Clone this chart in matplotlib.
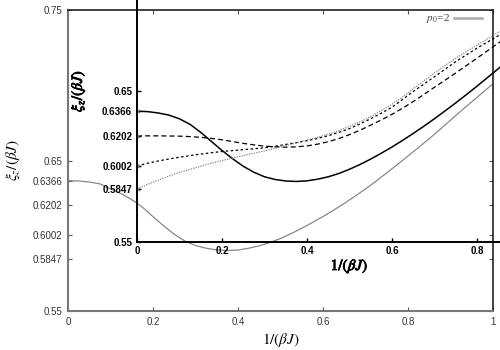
import matplotlib
matplotlib.use("Agg")
import matplotlib.pyplot as plt
import matplotlib.patheffects as pe

plt.rcParams['mathtext.fontset'] = 'stix'
plt.rcParams['font.family'] = ['Liberation Sans', 'DejaVu Sans']

# ---- data ----
x_main = [0.0, 0.025, 0.05, 0.075, 0.1, 0.125, 0.15, 0.175, 0.2, 0.225, 0.25,
          0.275, 0.3, 0.325, 0.35, 0.375, 0.4, 0.425, 0.45, 0.475, 0.5,
          0.525, 0.55, 0.575, 0.6, 0.625, 0.65, 0.675, 0.7, 0.725, 0.75,
          0.775, 0.8, 0.825, 0.85, 0.875, 0.9, 0.925, 0.95, 0.975, 1.0]
y_p0_2 = [0.6366, 0.6364, 0.6357, 0.6345, 0.6312, 0.6280, 0.6240, 0.6190,
          0.6127, 0.6066, 0.6010, 0.5965, 0.5935, 0.5917, 0.5906, 0.5902,
          0.5905, 0.5917, 0.5933, 0.5955, 0.5982, 0.6014, 0.6050, 0.6088,
          0.6128, 0.6170, 0.6215, 0.6262, 0.6311, 0.6363, 0.6418, 0.6473,
          0.6530, 0.6587, 0.6645, 0.6706, 0.6768, 0.6830, 0.6890, 0.6950,
          0.7010]

x_inset = [0.0, 0.025, 0.05, 0.075, 0.1, 0.125, 0.15, 0.175, 0.2, 0.225, 0.25,
           0.275, 0.3, 0.325, 0.35, 0.375, 0.4, 0.425, 0.45, 0.475, 0.5,
           0.525, 0.55, 0.575, 0.6, 0.625, 0.65, 0.675, 0.7, 0.725, 0.75,
           0.775, 0.8, 0.825, 0.85, 0.875, 0.9]
y_in_6366 = [0.6366, 0.6363, 0.6354, 0.6340, 0.6315, 0.6278, 0.6225, 0.6165,
             0.6105, 0.6050, 0.6000, 0.5960, 0.5930, 0.5912, 0.5902, 0.5899,
             0.5903, 0.5914, 0.5930, 0.5952, 0.5980, 0.6012, 0.6048, 0.6087,
             0.6128, 0.6172, 0.6218, 0.6266, 0.6316, 0.6368, 0.6421, 0.6476,
             0.6532, 0.6590, 0.6648, 0.6708, 0.6770]
y_in_6202 = [0.6202, 0.6202, 0.6202, 0.6201, 0.6200, 0.6197, 0.6192, 0.6185,
             0.6176, 0.6164, 0.6152, 0.6142, 0.6134, 0.6129, 0.6127, 0.6129,
             0.6135, 0.6147, 0.6163, 0.6184, 0.6210, 0.6240, 0.6273, 0.6308,
             0.6345, 0.6386, 0.6430, 0.6477, 0.6525, 0.6572, 0.6620, 0.6669,
             0.6718, 0.6768, 0.6818, 0.6868, 0.6920]
y_in_6002 = [0.6002, 0.6020, 0.6035, 0.6048, 0.6060, 0.6071, 0.6081, 0.6090,
             0.6098, 0.6104, 0.6110, 0.6116, 0.6123, 0.6133, 0.6145, 0.6157,
             0.6170, 0.6185, 0.6203, 0.6225, 0.6250, 0.6282, 0.6316, 0.6353,
             0.6392, 0.6444, 0.6497, 0.6546, 0.6595, 0.6645, 0.6695, 0.6740,
             0.6785, 0.6826, 0.6867, 0.6908, 0.6950]
y_in_5847 = [0.5847, 0.5880, 0.5908, 0.5935, 0.5959, 0.5980, 0.6000, 0.6020,
             0.6038, 0.6055, 0.6071, 0.6087, 0.6102, 0.6119, 0.6137, 0.6155,
             0.6174, 0.6193, 0.6213, 0.6237, 0.6265, 0.6295, 0.6330, 0.6370,
             0.6412, 0.6460, 0.6515, 0.6567, 0.6620, 0.6670, 0.6718, 0.6762,
             0.6805, 0.6847, 0.6888, 0.6930, 0.6972]

x_ticks = [0, 0.2, 0.4, 0.6, 0.8, 1]
x_ticklabels = ['0', '0.2', '0.4', '0.6', '0.8', '1']
y_ticks = [0.55, 0.5847, 0.6002, 0.6202, 0.6366, 0.65, 0.75]
y_ticklabels = ['0.55', '0.5847', '0.6002', '0.6202', '0.6366', '0.65', '0.75']
inset_x_ticks = [0, 0.2, 0.4, 0.6, 0.8]
inset_x_ticklabels = ['0', '0.2', '0.4', '0.6', '0.8']
inset_y_ticks = [0.55, 0.5847, 0.6002, 0.6202, 0.6366, 0.65]
inset_y_ticklabels = ['0.55', '0.5847', '0.6002', '0.6202', '0.6366', '0.65']

xlabel = r'$1/(\beta J)$'
ylabel = r'$\xi_z/(\beta J)$'
legend_label = r'$p_0$=2'

# ---- figure ----
fig = plt.figure(figsize=(5, 3.5), dpi=100)
ax = fig.add_axes([0.136, 0.1114, 0.85, 0.86])
axi = fig.add_axes([0.274, 0.31, 0.85, 0.86])
axi.patch.set_alpha(0)

# main axes
ax.plot(x_main, y_p0_2, color='#888888', lw=0.9, label=legend_label)
ax.set_xlim(0, 1)
ax.set_ylim(0.55, 0.75)
ax.set_xticks(x_ticks)
ax.set_xticklabels(x_ticklabels)
ax.set_yticks(y_ticks)
ax.set_yticklabels(y_ticklabels)
ax.tick_params(direction='in', length=3, width=0.8, color='#555555',
               top=True, right=True, labelsize=7, labelcolor='#333333', pad=4)
for s in ['left', 'bottom']:
    ax.spines[s].set_color('#777777')
    ax.spines[s].set_linewidth(1.5)
for s in ['top', 'right']:
    ax.spines[s].set_color('#222222')
    ax.spines[s].set_linewidth(1.2)
ax.set_xlabel(xlabel, fontsize=11)
ax.xaxis.set_label_coords(0.5, -0.066)
ax.set_ylabel(ylabel, fontsize=11)
ax.yaxis.set_label_coords(-0.108, 0.5)
leg = ax.legend(loc='upper right', bbox_to_anchor=(0.974, 0.992), frameon=False,
                markerfirst=False, handlelength=2.5, handletextpad=0.4,
                borderpad=0, borderaxespad=0,
                prop={'family': 'Liberation Serif', 'size': 8})
for t in leg.get_texts():
    t.set_color('#444444')
for h in leg.get_lines():
    h.set_linewidth(1.8)
    h.set_color('#aaaaaa')

# inset axes
mk = dict(marker=(6, 2, 0), markevery=[0], ms=4, mec='#888888', mew=0.8)
axi.plot(x_inset, y_in_6366, color='black', lw=1.1, **mk)
axi.plot(x_inset, y_in_6202, color='black', lw=0.9, ls=(0, (4, 2.5)), **mk)
axi.plot(x_inset, y_in_6002, color='black', lw=0.9, ls=(0, (2, 2)), **mk)
axi.plot(x_inset, y_in_5847, color='#888888', lw=0.9, ls=(0, (1, 1)), **mk)
axi.set_xlim(0, 1)
axi.set_ylim(0.55, 0.75)
axi.set_xticks(inset_x_ticks)
axi.set_xticklabels(inset_x_ticklabels)
axi.set_yticks(inset_y_ticks)
axi.set_yticklabels(inset_y_ticklabels)
axi.tick_params(direction='in', length=3, width=1.0, color='black',
                labelsize=7, labelcolor='black', pad=3.5)
for lab in axi.get_xticklabels() + axi.get_yticklabels():
    lab.set_fontweight('bold')
for s in ['left', 'bottom', 'top', 'right']:
    axi.spines[s].set_color('black')
    axi.spines[s].set_linewidth(1.4)
bold = [pe.withStroke(linewidth=0.6, foreground='black')]
axi.set_xlabel(xlabel, fontsize=11, path_effects=bold)
axi.xaxis.set_label_coords(0.5, -0.0515)
axi.set_ylabel(ylabel, fontsize=11, path_effects=bold)
axi.yaxis.set_label_coords(-0.118, 0.5)

fig.savefig('out.png', dpi=100)
